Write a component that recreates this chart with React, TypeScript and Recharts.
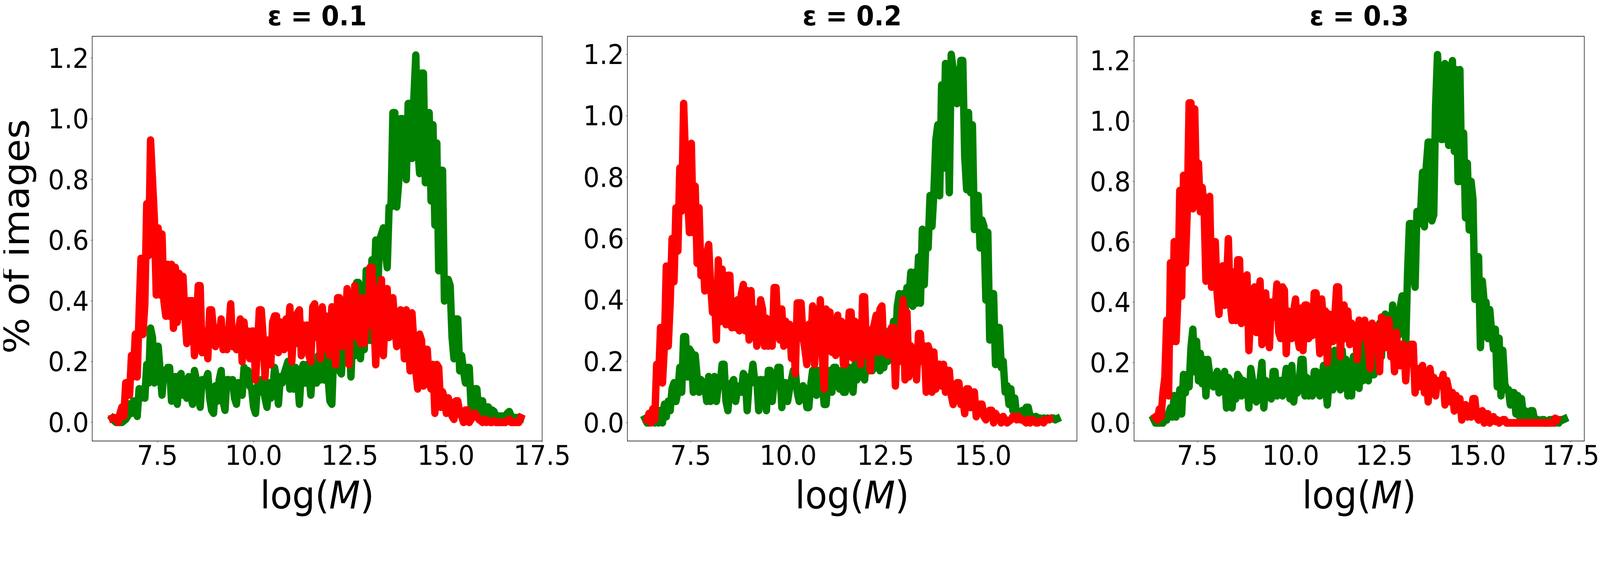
import React from "react";
import { LineChart, Line, XAxis, YAxis, ReferenceArea } from "recharts";

// Histogram values on a 0.05-wide grid; each row covers 0.5 of log(M)
const green01 = [.013,.005,0,0,
0,0,.005,.01,.02,.06,.03,.07,.04,.02,
.11,.08,.11,.08,.19,.13,.31,.28,.13,.25,
.25,.17,.09,.17,.16,.18,.18,.07,.14,.15,
.06,.15,.16,.09,.14,.08,.15,.09,.06,.17,
.14,.09,.05,.14,.13,.14,.16,.08,.04,.03,
.12,.07,.14,.17,.07,.04,.14,.14,.12,.14,
.08,.06,.13,.10,.09,.18,.16,.17,.12,.11,
.05,.03,.12,.10,.14,.12,.08,.05,.13,.08,
.10,.18,.14,.06,.15,.13,.16,.18,.20,.11,
.19,.11,.18,.15,.06,.17,.19,.13,.19,.16,
.09,.19,.19,.13,.22,.14,.21,.14,.24,.15,
.07,.06,.24,.18,.25,.17,.16,.27,.28,.20,
.30,.15,.30,.22,.46,.46,.21,.33,.24,.50,
.50,.27,.535,.40,.60,.42,.60,.62,.64,.57,
.51,.71,.71,1.02,1.02,.71,.79,1.0,1.0,.95,
.80,1.05,1.05,.87,1.07,1.21,.91,.82,1.15,1.15,
.79,.80,1.02,.73,.98,.65,.92,.50,.83,.83,
.40,.47,.47,.45,.28,.21,.34,.34,.17,.22,
.17,.13,.18,.18,.05,.03,.11,.11,.03,.07,
.07,.02,.05,.05,.02,.04,.035,.02,.02,.02,
.02,.02,.02,.03,.035,.02,.015,.015,.015,.015,
.013];
const red01 = [.013,.015,.01,0,
.03,.05,.02,.13,.09,.09,.22,.15,.29,.15,
.36,.54,.29,.39,.72,.55,.93,.80,.67,.42,
.64,.42,.62,.40,.35,.52,.35,.52,.31,.51,
.33,.49,.35,.48,.35,.26,.40,.40,.40,.22,
.32,.45,.45,.23,.29,.30,.21,.37,.37,.30,
.25,.31,.28,.34,.24,.26,.24,.30,.39,.25,
.26,.24,.30,.34,.20,.33,.24,.30,.21,.30,
.30,.14,.24,.37,.37,.28,.15,.27,.27,.19,
.33,.35,.35,.23,.33,.30,.24,.34,.28,.38,
.20,.30,.26,.36,.37,.22,.32,.29,.32,.22,
.20,.38,.39,.28,.36,.21,.38,.27,.35,.24,
.22,.38,.30,.19,.41,.41,.25,.38,.30,.44,
.19,.40,.28,.45,.38,.33,.26,.41,.26,.34,
.32,.51,.51,.35,.19,.37,.43,.47,.22,.36,
.44,.28,.35,.41,.32,.25,.31,.37,.34,.21,
.37,.28,.17,.36,.26,.17,.11,.29,.27,.12,
.24,.24,.13,.11,.19,.03,.19,.18,.05,.10,
.08,.03,.08,.06,.02,.01,.07,.07,.03,.02,
0,.04,.04,0,.01,.02,.03,.02,.01,.005,
0,.01,0,.005,0,0,.005,0,0,0,
0,0,0,.005,.01,0,0,0,0,0,
.015];

const green02 = [.013,0,0,.005,
.03,0,.03,0,.04,0,.06,.02,.07,.04,
.11,.13,.07,.10,.18,.10,.28,.28,.15,.24,
.23,.10,.22,.15,.10,.14,.13,.12,.07,.15,
.07,.13,.15,.07,.12,.13,.19,.19,.07,.04,
.12,.13,.14,.07,.11,.12,.10,.16,.15,.04,
.13,.14,.19,.13,.14,.04,.14,.12,.14,.04,
.17,.17,.07,.13,.14,.18,.18,.05,.13,.13,
.07,.11,.14,.17,.17,.10,.07,.10,.12,.11,
.05,.05,.12,.17,.17,.09,.17,.13,.13,.06,
.06,.14,.17,.10,.18,.18,.13,.11,.17,.10,
.10,.17,.18,.15,.10,.19,.14,.20,.15,.20,
.14,.22,.17,.24,.17,.23,.18,.22,.17,.26,
.18,.27,.20,.30,.22,.33,.24,.38,.42,.30,
.42,.36,.44,.40,.49,.38,.49,.39,.54,.39,
.63,.45,.62,.57,.74,.64,.75,.92,.97,.74,
1.10,.83,1.17,1.10,.75,1.20,1.15,1.15,1.04,1.08,
1.18,1.18,.87,.76,1.01,.75,.97,.63,.72,.74,
.57,.66,.64,.40,.62,.27,.42,.42,.19,.31,
.31,.18,.20,.10,.12,.06,.11,.04,.08,.02,
.03,.01,.04,.02,.05,.05,.02,.02,.01,.02,
.015,.015,.01,.015,.01,.015,.01,.015,.015,.01,
.013];
const red02 = [null,.01,.03,0,
.045,.01,.19,.14,.31,.13,.25,.51,.25,.39,
.60,.46,.70,.56,.83,.69,1.04,.85,.75,.62,
.91,.62,.77,.52,.70,.48,.55,.43,.55,.58,
.45,.36,.42,.27,.53,.33,.50,.36,.32,.48,
.48,.31,.38,.31,.40,.30,.42,.45,.30,.43,
.27,.43,.29,.37,.25,.33,.40,.37,.25,.34,
.25,.30,.25,.44,.44,.30,.27,.37,.25,.33,
.30,.32,.21,.31,.16,.39,.39,.39,.28,.24,
.19,.32,.25,.38,.19,.36,.24,.40,.22,.11,
.37,.30,.36,.23,.33,.22,.35,.25,.33,.19,
.19,.25,.36,.36,.21,.33,.23,.32,.19,.41,
.41,.22,.30,.17,.30,.32,.35,.23,.37,.38,
.23,.25,.22,.29,.31,.31,.12,.29,.20,.33,
.40,.14,.36,.15,.25,.17,.24,.14,.29,.29,
.20,.25,.10,.25,.23,.10,.23,.11,.19,.19,
.12,.19,.10,.17,.17,.09,.06,.10,.13,.13,
.06,.08,.03,.11,.11,.05,.06,.10,.02,.04,
.06,.06,.02,.01,.03,.04,.04,0,.03,.02,
.01,0,.02,.01,0,.005,.01,.02,.02,.01,
.02,.01,.01,.005,0,.01,0,.01,.005,0,
0,.005,.005,0,.01,.01,.012,null,null,null,
null];

const green03 = [.013,0,0,0,
0,0,.01,.01,.03,.05,.02,.09,.02,.04,
.11,.03,.16,.10,.16,.12,.25,.31,.17,.27,
.14,.23,.13,.21,.09,.21,.16,.15,.12,.14,
.17,.10,.14,.12,.17,.05,.15,.14,.05,.13,
.08,.16,.15,.09,.14,.10,.13,.05,.18,.14,
.13,.07,.13,.14,.20,.05,.14,.10,.13,.08,
.17,.17,.09,.12,.14,.09,.13,.18,.16,.08,
.19,.07,.13,.10,.14,.21,.21,.09,.15,.09,
.14,.09,.17,.17,.12,.09,.14,.19,.13,.06,
.15,.19,.11,.24,.15,.22,.11,.24,.14,.21,
.09,.20,.09,.22,.12,.20,.115,.24,.14,.26,
.15,.14,.28,.16,.16,.30,.18,.33,.22,.35,
.36,.26,.32,.25,.39,.30,.37,.29,.38,.42,
.42,.26,.50,.66,.66,.50,.45,.70,.66,.70,
.83,.65,.85,.93,.93,.67,.69,1.05,1.22,1.10,
.94,.94,1.19,1.0,.92,1.15,1.20,.90,1.17,.80,
1.17,.80,.96,.68,.86,.64,.80,.74,.41,.55,
.55,.25,.47,.40,.40,.28,.375,.30,.245,.31,
.12,.28,.09,.24,.13,.11,.11,.06,.10,.10,
.03,.09,.02,.08,.02,.04,.01,.02,.04,.04,
.01,.01,.01,.005,.01,.01,0,.005,.01,.01,
.01,0,.005,0,.01,.01,.013];
const red03 = [null,.02,.01,.045,
.02,.10,.15,.34,.09,.53,.27,.60,.27,.42,
.77,.42,.82,.53,.70,1.06,1.06,.71,1.04,.74,
.86,.70,.78,.72,.47,.72,.75,.45,.58,.60,
.43,.36,.50,.52,.39,.45,.61,.40,.34,.50,
.34,.54,.54,.33,.44,.42,.49,.24,.38,.42,
.45,.30,.41,.47,.26,.39,.43,.33,.25,.40,
.35,.37,.46,.30,.28,.45,.44,.23,.37,.36,
.28,.37,.41,.29,.25,.38,.24,.39,.39,.28,
.31,.29,.43,.43,.33,.23,.41,.33,.37,.20,
.36,.30,.27,.35,.45,.45,.22,.36,.39,.28,
.37,.26,.33,.29,.31,.21,.34,.28,.32,.34,
.30,.24,.18,.33,.25,.32,.27,.17,.35,.33,
.25,.34,.34,.22,.28,.17,.30,.22,.19,.26,
.26,.14,.24,.21,.26,.26,.10,.18,.12,.18,
.19,.10,.17,.07,.18,.12,.15,.09,.14,.13,
.13,.16,.06,.14,.11,.07,.10,.04,.09,.07,
.08,.01,.05,.06,.02,.04,.02,.08,.08,.02,
.01,.03,.04,0,.03,.03,0,.01,.02,.005,
.01,0,.005,.01,.01,0,0,0,0,0,
0,0,0,0,0,0,0,0,0,0,
0,0,0,0,0,0,0,0,0,0,
0,.015,.012,null,null,null,null];

const xTicks = [7.5, 10, 12.5, 15, 17.5];
const yTicks = [0, 0.2, 0.4, 0.6, 0.8, 1.0, 1.2];
const titles = ["ε = 0.1", "ε = 0.2", "ε = 0.3"];
const xAxisWord = "log(";
const xAxisSymbol = "M";
const yAxisTitle = "% of images";

const FULL_W = 4320;
const GUTTER = 240;
const PAD_RIGHT = 90;
const TOP = 93;
const BOTTOM_SPACE = 310;
const H = 1440;
const FONT = "'DejaVu Sans', sans-serif";

const panels = [
  { left: 248.5, width: 1214.8, xDomain: [5.806, 17.5], yDomain: [-0.0617, 1.272], green: green01, red: red01, title: titles[0], xStart: 6.33, xStep: 0.0496, showY: true },
  { left: 1694.3, width: 1213.7, xDomain: [5.875, 17.41], yDomain: [-0.0595, 1.259], green: green02, red: red02, title: titles[1], xStart: 6.33, xStep: 0.0494, showY: false },
  { left: 3061.5, width: 1215.5, xDomain: [5.806, 17.86], yDomain: [-0.06, 1.281], green: green03, red: red03, title: titles[2], xStart: 6.33, xStep: 0.05, showY: false },
];

const tickStyle = { fontFamily: FONT, fontSize: 69.4, fill: "#000" };

function Panel({ p }: { p: (typeof panels)[number] }) {
  const rows = p.green.map((g, i) => ({ x: p.xStart + i * p.xStep, g, r: p.red[i] }));
  const W = GUTTER + p.width + PAD_RIGHT;
  const cx = GUTTER + p.width / 2;
  return (
    <div style={{ position: "absolute", left: p.left - GUTTER, top: 0, width: W, height: H }}>
      <LineChart width={W} height={H} data={rows} margin={{ top: TOP, right: PAD_RIGHT, bottom: 0, left: 0 }}>
        <XAxis
          dataKey="x"
          type="number"
          domain={p.xDomain}
          ticks={xTicks.filter((t) => t <= p.xDomain[1])}
          allowDataOverflow
          interval={0}
          height={BOTTOM_SPACE}
          axisLine={false}
          tickSize={4}
          tickMargin={8}
          tickLine={{ stroke: "#222", strokeWidth: 1 }}
          tick={tickStyle}
          tickFormatter={(v: number) => v.toFixed(1)}
        />
        <YAxis
          type="number"
          domain={p.yDomain}
          ticks={yTicks}
          allowDataOverflow
          interval={0}
          width={GUTTER}
          axisLine={false}
          tickSize={4}
          tickMargin={5}
          tickLine={{ stroke: "#222", strokeWidth: 1 }}
          tick={tickStyle}
          tickFormatter={(v: number) => v.toFixed(1)}
        />
        <ReferenceArea
          x1={p.xDomain[0]}
          x2={p.xDomain[1]}
          y1={p.yDomain[0]}
          y2={p.yDomain[1]}
          fill="none"
          stroke="#000"
          strokeWidth={1.4}
          ifOverflow="visible"
        />
        <Line dataKey="g" stroke="#008000" strokeWidth={20} dot={false} activeDot={false} type="linear" strokeLinejoin="round" strokeLinecap="square" isAnimationActive={false} />
        <Line dataKey="r" stroke="#ff0000" strokeWidth={20} dot={false} activeDot={false} type="linear" strokeLinejoin="round" strokeLinecap="square" isAnimationActive={false} />
        <text x={cx} y={65} textAnchor="middle" fontFamily={FONT} fontSize={69.4} fontWeight="bold" fill="#000">{p.title}</text>
        <text x={cx} y={1303} textAnchor="middle" fontFamily={FONT} fontSize={97.2} fill="#000">
          <tspan>{xAxisWord}</tspan>
          <tspan fontStyle="italic">{xAxisSymbol}</tspan>
          <tspan>)</tspan>
        </text>
        {p.showY ? (
          <text transform={`translate(${78 - (p.left - GUTTER)},606) rotate(-90)`} textAnchor="middle" fontFamily={FONT} fontSize={97.2} fill="#000">{yAxisTitle}</text>
        ) : null}
      </LineChart>
    </div>
  );
}

export default function App() {
  // The whole figure must stay inside the browser window, which can be narrower than the figure.
  const fit = Math.min(1, window.innerWidth / FULL_W);
  return (
    <div style={{ position: "absolute", left: 0, top: 0, width: window.innerWidth, height: H, overflow: "hidden", background: "#fff" }}>
      <div style={{ position: "absolute", left: 0, top: 0, width: FULL_W, height: H, transform: `scaleX(${fit})`, transformOrigin: "0 0", overflow: "hidden" }}>
        {panels.map((p) => (
          <Panel key={p.title} p={p} />
        ))}
      </div>
    </div>
  );
}
